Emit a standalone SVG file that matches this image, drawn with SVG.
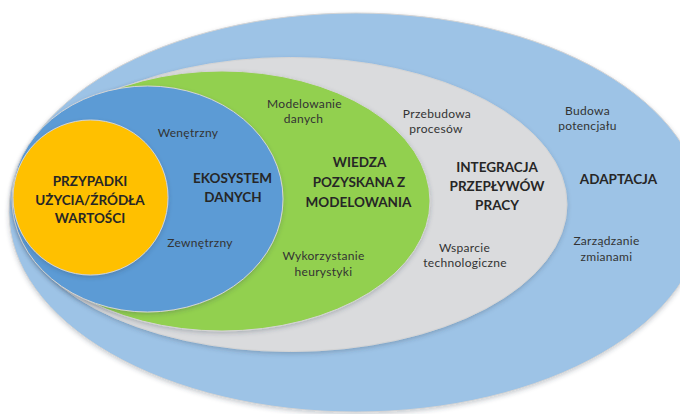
<svg xmlns="http://www.w3.org/2000/svg" width="680" height="414" viewBox="0 0 680 414">
<style>
.ring{stroke:#d4d4d4;stroke-width:1;filter:url(#sh)}
.b{font-family:Lato,"Open Sans","Liberation Sans",sans-serif;font-weight:bold;font-size:13.5px;fill:#262626;text-anchor:middle}
.r{font-family:Lato,"Open Sans","Liberation Sans",sans-serif;font-size:12px;letter-spacing:0.3px;fill:#333333;text-anchor:middle}
</style>
<defs>
<filter id="sh" x="-10%" y="-10%" width="120%" height="125%">
<feDropShadow dx="0" dy="2" stdDeviation="2" flood-color="#2a3a50" flood-opacity="0.25"/>
</filter>
</defs>
<rect width="680" height="414" fill="#ffffff"/>
<g id="adaptacja">
<ellipse class="ring" cx="356" cy="212.5" rx="347" ry="199.5" fill="#9DC3E6" stroke="#c8c8c8"/>
<text class="b" x="618.5" y="183.5">ADAPTACJA</text>
<text class="r" x="587.5" y="115">Budowa</text>
<text class="r" x="587.5" y="130">potencjału</text>
<text class="r" x="606.5" y="245">Zarządzanie</text>
<text class="r" x="606.5" y="261">zmianami</text>
</g>
<g id="integracja">
<ellipse class="ring" cx="290.5" cy="204.5" rx="276.5" ry="147" fill="#DADBDD"/>
<text class="b" x="497" y="172">INTEGRACJA</text>
<text class="b" x="497" y="191">PRZEPŁYWÓW</text>
<text class="b" x="497" y="209.5">PRACY</text>
<text class="r" x="437" y="117.5">Przebudowa</text>
<text class="r" x="436" y="133">procesów</text>
<text class="r" x="464.5" y="252">Wsparcie</text>
<text class="r" x="465" y="267">technologiczne</text>
</g>
<g id="wiedza">
<ellipse class="ring" cx="222" cy="201" rx="208" ry="130" fill="#92D050" stroke="#e2e8dc"/>
<text class="b" x="359.5" y="167">WIEDZA</text>
<text class="b" x="359" y="187">POZYSKANA Z</text>
<text class="b" x="358.5" y="206.5">MODELOWANIA</text>
<text class="r" x="304.5" y="107.5">Modelowanie</text>
<text class="r" x="303.5" y="122.5">danych</text>
<text class="r" x="323.5" y="260">Wykorzystanie</text>
<text class="r" x="323.5" y="275.5">heurystyki</text>
</g>
<g id="ekosystem">
<ellipse class="ring" cx="147.5" cy="199" rx="135.5" ry="113" fill="#5B9BD5" stroke="#e6ecf2"/>
<text class="b" x="232.5" y="183">EKOSYSTEM</text>
<text class="b" x="233" y="201.5">DANYCH</text>
<text class="r" x="188" y="136.5">Wenętrzny</text>
<text class="r" x="200" y="246.5">Zewnętrzny</text>
</g>
<g id="przypadki">
<ellipse class="ring" cx="90.5" cy="197.5" rx="77.5" ry="77.5" fill="#FFC000" stroke="#f0f0f0"/>
<text class="b" x="90" y="186">PRZYPADKI</text>
<text class="b" x="90" y="204.5">UŻYCIA/ŹRÓDŁA</text>
<text class="b" x="90" y="223">WARTOŚCI</text>
</g>
<g id="connectors"/>
</svg>
